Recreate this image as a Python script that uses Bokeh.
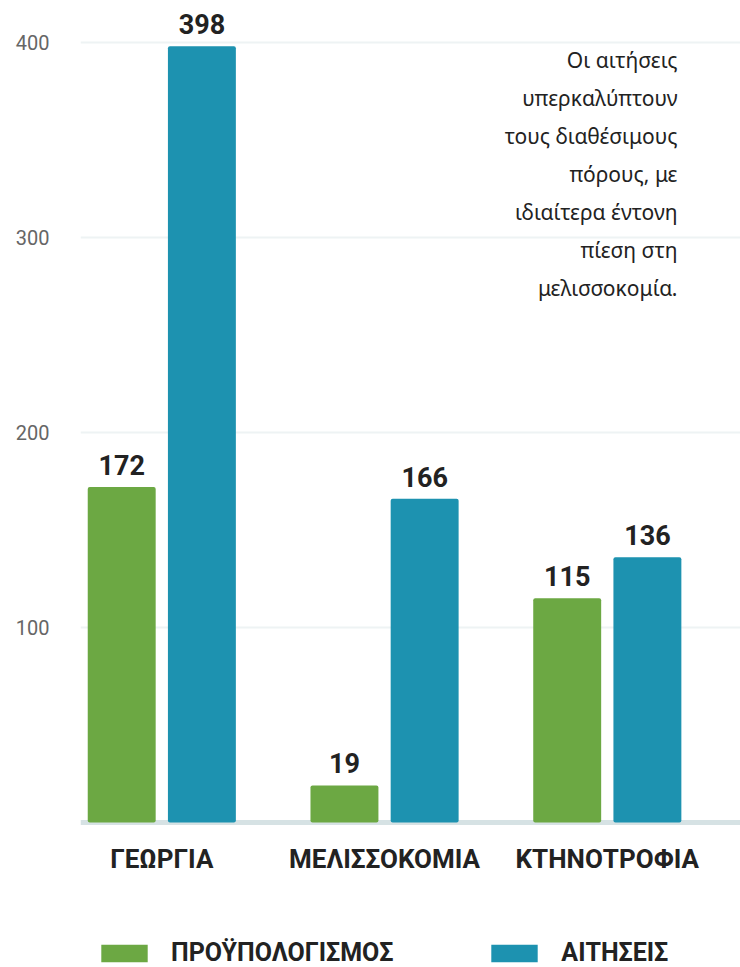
from bokeh.plotting import figure
from bokeh.models import (ColumnDataSource, Range1d, FixedTicker, Legend, LegendItem,
                          Label, Span)
from bokeh.transform import dodge
from bokeh.core.properties import value
from bokeh.embed import file_html
from bokeh.resources import INLINE

# ---- data ----
categories = ["ΓΕΩΡΓΙΑ", "ΜΕΛΙΣΣΟΚΟΜΙΑ", "ΚΤΗΝΟΤΡΟΦΙΑ"]
budget = [172, 19, 115]
applications = [398, 166, 136]
series_names = ["ΠΡΟΫΠΟΛΟΓΙΣΜΟΣ", "ΑΙΤΗΣΕΙΣ"]
y_ticks = [100, 200, 300, 400]
note_lines = ["Οι αιτήσεις", "υπερκαλύπτουν", "τους διαθέσιμους",
              "πόρους, με", "ιδιαίτερα έντονη", "πίεση στη", "μελισσοκομία."]

GREEN = "#6ca843"
BLUE = "#1d92b0"
DARK = "#222222"

idx = list(range(len(categories)))
src = ColumnDataSource(dict(
    x=idx,
    cat=categories,
    budget=budget,
    applications=applications,
    budget_lbl=[str(v) for v in budget],
    app_lbl=[str(v) for v in applications],
))

p = figure(width=740, height=967,
           x_range=Range1d(-0.365, 2.598), y_range=Range1d(-74.36, 421.5),
           output_backend="svg", toolbar_location=None,
           min_border_left=80, min_border_right=0, min_border_top=0,
           min_border_bottom=0)
p.outline_line_color = None
p.background_fill_color = "white"

# baseline band at zero
p.add_layout(Span(location=0, dimension="width", line_color="#d6e2e4",
                  line_width=5, level="underlay"))

off = 0.18
bw = 0.305
r1 = p.vbar(x=dodge("x", -off), top="budget", width=bw, source=src,
            fill_color=GREEN, line_color=None, border_radius=2)
r2 = p.vbar(x=dodge("x", off), top="applications", width=bw, source=src,
            fill_color=BLUE, line_color=None, border_radius=2)

lbl_kw = dict(text_align="center", text_baseline="alphabetic", y_offset=-22,
              text_font=value("Roboto"), text_font_style="bold",
              text_font_size="27px", text_color=DARK, source=src)
p.text(x=dodge("x", -off), y="budget", text="budget_lbl", **lbl_kw)
p.text(x=dodge("x", off), y="applications", text="app_lbl", **lbl_kw)

# category labels under the baseline
p.text(x="x", y=0, text="cat", source=src, text_align="center",
       text_baseline="top", y_offset=22, text_font=value("Roboto"),
       text_font_style="bold", text_font_size="26px", text_color=DARK)

# axes
p.xaxis.visible = False
p.yaxis.ticker = FixedTicker(ticks=y_ticks)
p.yaxis.axis_line_color = None
p.yaxis.major_tick_line_color = None
p.yaxis.minor_tick_line_color = None
p.yaxis.major_tick_out = 0
p.yaxis.major_label_standoff = 31
p.yaxis.major_label_text_font = "Roboto"
p.yaxis.major_label_text_font_size = "20px"
p.yaxis.major_label_text_color = "#666666"

p.xgrid.visible = False
p.ygrid.grid_line_color = "#eef3f4"
p.ygrid.grid_line_width = 2

# annotation
note = Label(x=597, y=922, x_units="screen", y_units="screen",
             text="\n".join(note_lines), text_align="right", text_baseline="top",
             text_font="Noto Sans", text_font_size="21px", text_color=DARK,
             text_line_height=1.36)
p.add_layout(note)

legend = Legend(items=[LegendItem(label=series_names[0], renderers=[r1]),
                       LegendItem(label=series_names[1], renderers=[r2])],
                orientation="horizontal", location=(15, 0),
                glyph_width=58, glyph_height=22, label_standoff=18, spacing=92,
                padding=0, margin=0, border_line_alpha=0, background_fill_alpha=0,
                label_text_font="Roboto", label_text_font_style="bold",
                label_text_font_size="25px", label_text_color=DARK)
p.add_layout(legend)

open("out.html", "w").write(file_html(p, INLINE))
